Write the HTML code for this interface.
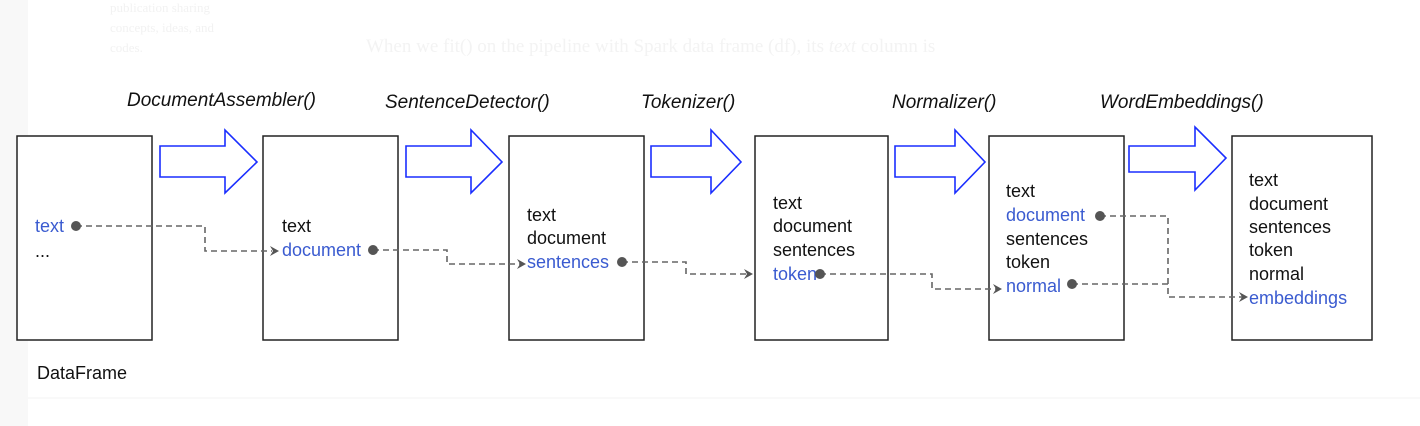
<!DOCTYPE html>
<html><head><meta charset="utf-8"><style>
html,body{margin:0;padding:0;background:#fff;}
svg{display:block}
</style></head><body>
<svg width="1420" height="426" xmlns="http://www.w3.org/2000/svg" font-family="Liberation Sans, Arial, sans-serif">
<rect x="0" y="0" width="28" height="426" fill="#f8f8f8"/>
<line x1="28" y1="398" x2="1420" y2="398" stroke="#f3f3f3" stroke-width="1"/>
<g fill="#f2f2f2" font-size="13" font-family="Liberation Serif, serif">
<text x="110" y="12">publication sharing</text>
<text x="110" y="32">concepts, ideas, and</text>
<text x="110" y="52">codes.</text>
</g>
<text x="366" y="52" fill="#f3f3f3" font-size="19" font-family="Liberation Serif, serif">When we fit() on the pipeline with Spark data frame (df), its <tspan font-style="italic">text</tspan> column is</text>

<g font-size="19" font-style="italic" fill="#111">
<text x="127" y="106">DocumentAssembler()</text>
<text x="385" y="108">SentenceDetector()</text>
<text x="641" y="108">Tokenizer()</text>
<text x="892" y="108">Normalizer()</text>
<text x="1100" y="108">WordEmbeddings()</text>
</g>

<g fill="#fff" stroke="#222" stroke-width="1.5">
<rect x="17" y="136" width="135" height="204"/>
<rect x="263" y="136" width="135" height="204"/>
<rect x="509" y="136" width="135" height="204"/>
<rect x="755" y="136" width="133" height="204"/>
<rect x="989" y="136" width="135" height="204"/>
<rect x="1232" y="136" width="140" height="204"/>
</g>

<g fill="#fff" stroke="#1a2eff" stroke-width="1.6">
<polygon points="160,146 225,146 225,130 257,162 225,193 225,177 160,177"/>
<polygon points="406,146 471,146 471,130 502,162 471,193 471,177 406,177"/>
<polygon points="651,146 711,146 711,130 741,162 711,193 711,177 651,177"/>
<polygon points="895,146 955,146 955,130 985,162 955,193 955,177 895,177"/>
<polygon points="1129,146 1195,146 1195,127 1226,158 1195,190 1195,172 1129,172"/>
</g>

<g font-size="18" fill="#111">
<text x="35" y="232" fill="#3a5bd0">text</text>
<text x="35" y="257">...</text>
<text x="282" y="232">text</text>
<text x="282" y="256" fill="#3a5bd0">document</text>
<text x="527" y="221">text</text>
<text x="527" y="244">document</text>
<text x="527" y="268" fill="#3a5bd0">sentences</text>
<text x="773" y="209">text</text>
<text x="773" y="232">document</text>
<text x="773" y="256">sentences</text>
<text x="773" y="280" fill="#3a5bd0">token</text>
<text x="1006" y="197">text</text>
<text x="1006" y="221" fill="#3a5bd0">document</text>
<text x="1006" y="245">sentences</text>
<text x="1006" y="268">token</text>
<text x="1006" y="292" fill="#3a5bd0">normal</text>
<text x="1249" y="186">text</text>
<text x="1249" y="210">document</text>
<text x="1249" y="233">sentences</text>
<text x="1249" y="256">token</text>
<text x="1249" y="280">normal</text>
<text x="1249" y="304" fill="#3a5bd0">embeddings</text>
<text x="37" y="379">DataFrame</text>
</g>

<g fill="none" stroke="#666" stroke-width="1.6" stroke-dasharray="6,4">
<polyline points="76,226 205,226 205,251 272,251"/>
<polyline points="373,250 447,250 447,264 520,264"/>
<polyline points="622,262 686,262 686,274 748,274"/>
<polyline points="820,274 932,274 932,289 996,289"/>
<polyline points="1100,216 1168,216 1168,297 1242,297"/>
<polyline points="1072,284 1168,284"/>
</g>
<g fill="#555">
<circle cx="76" cy="226" r="5"/>
<circle cx="373" cy="250" r="5"/>
<circle cx="622" cy="262" r="5"/>
<circle cx="820" cy="274" r="5"/>
<circle cx="1100" cy="216" r="5"/>
<circle cx="1072" cy="284" r="5"/>
<polygon points="270,246 279,251 270,256 273,251"/>
<polygon points="517,259 526,264 517,269 520,264"/>
<polygon points="744,269 753,274 744,279 747,274"/>
<polygon points="993,284 1002,289 993,294 996,289"/>
<polygon points="1239,292 1248,297 1239,302 1242,297"/>
</g>
</svg>
</body></html>
